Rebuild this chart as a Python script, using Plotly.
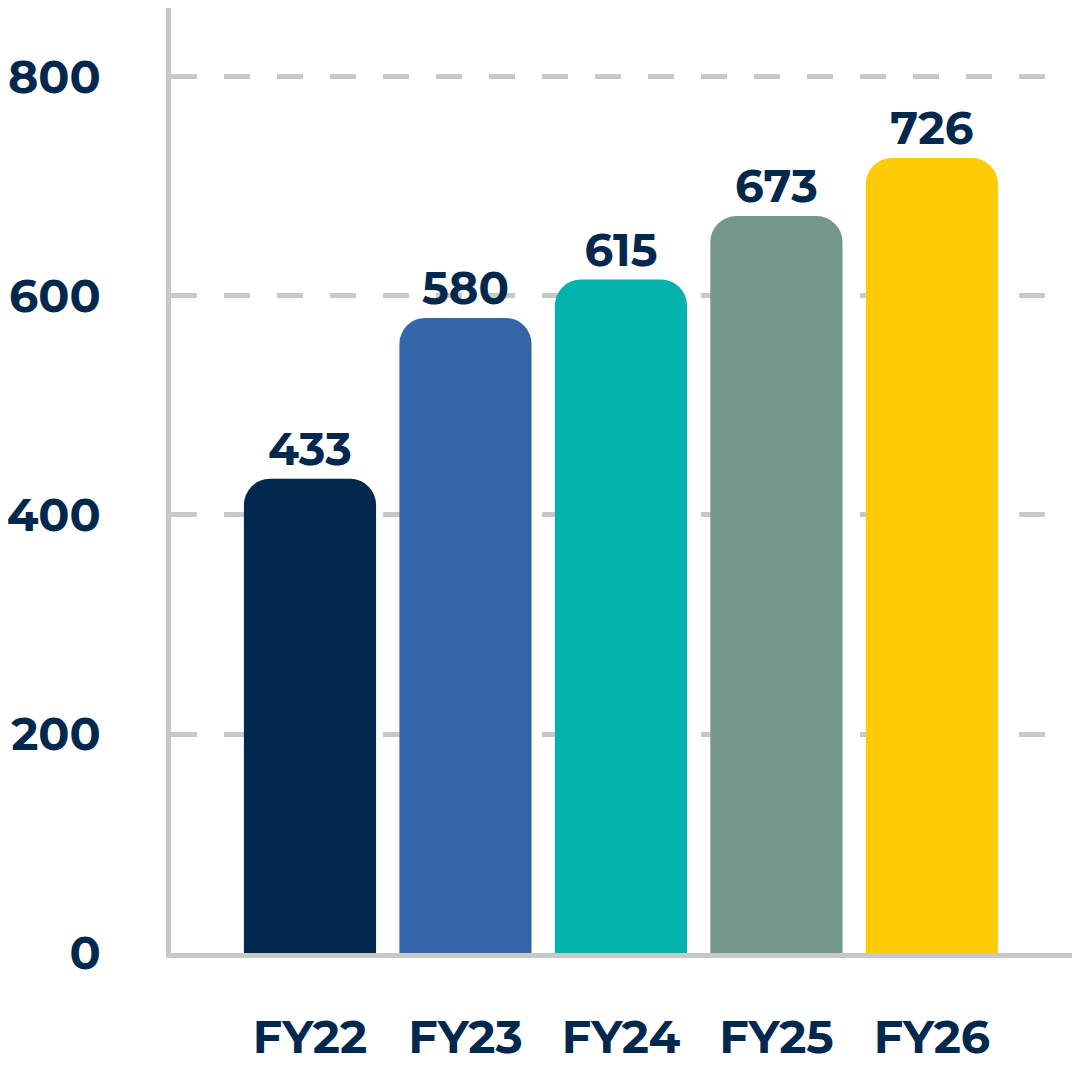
import plotly.graph_objects as go

categories = ["FY22", "FY23", "FY24", "FY25", "FY26"]
values = [433, 580, 615, 673, 726]
bar_colors = ["#03284d", "#3365a8", "#02b2ab", "#73988a", "#fecb05"]
y_ticks = [0, 200, 400, 600, 800]

text_color = "#03284d"
grid_color = "#c8c8c8"
font_family = "Montserrat, Open Sans, Lato, sans-serif"

fig = go.Figure(
    go.Bar(
        x=categories,
        y=values,
        marker=dict(color=bar_colors, cornerradius=26, line=dict(width=0)),
        text=[str(v) for v in values],
        textposition="outside",
        textfont=dict(family=font_family, size=45, color=text_color, weight="bold"),
        cliponaxis=False,
    )
)

fig.update_layout(
    width=1080,
    height=1080,
    margin=dict(l=163, r=14, t=0, b=135),
    paper_bgcolor="white",
    plot_bgcolor="white",
    bargap=0.15,
    showlegend=False,
    font=dict(family=font_family, color=text_color),
)

fig.update_xaxes(
    range=[-0.894, 4.914],
    automargin=False,
    showline=True,
    linecolor=grid_color,
    linewidth=5,
    showgrid=False,
    ticks="",
    tickfont=dict(family=font_family, size=46, color=text_color, weight="bold"),
    ticklabelstandoff=40,
)

fig.update_yaxes(
    range=[0, 863],
    automargin=False,
    tickvals=y_ticks,
    showline=True,
    linecolor=grid_color,
    linewidth=5,
    showgrid=True,
    gridcolor=grid_color,
    gridwidth=5,
    griddash="26px,27px",
    zeroline=False,
    ticks="",
    tickfont=dict(family=font_family, size=46, color=text_color, weight="bold"),
    ticklabelstandoff=56,
)

fig.write_html("out.html")
